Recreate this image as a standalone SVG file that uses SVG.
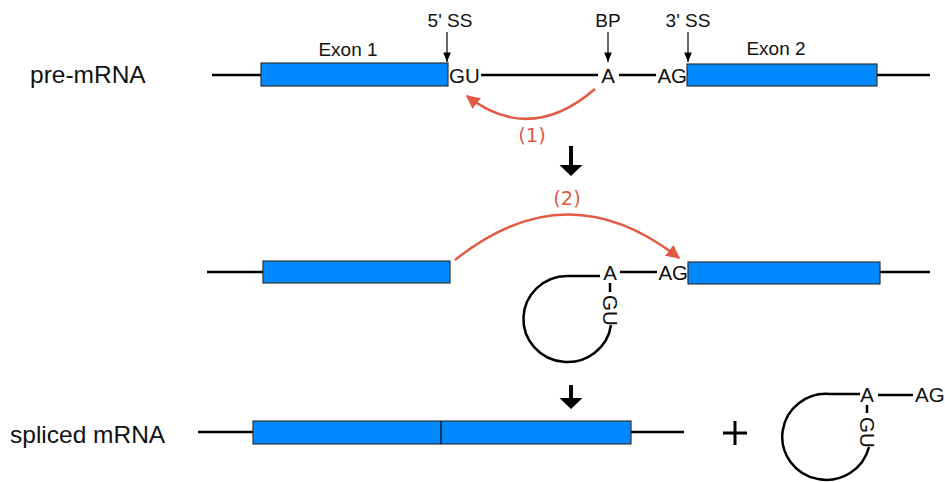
<svg xmlns="http://www.w3.org/2000/svg" width="945" height="482" viewBox="0 0 945 482">
<style>
.t{font-family:"Liberation Sans",Arial,sans-serif;fill:#111}
.lbl{font-size:24.5px}
.sm{font-size:19px}
.nt{font-size:20.5px}
.red{font-family:"DejaVu Sans",sans-serif;font-size:19.5px;fill:#e05a44}
.ln{stroke:#000;stroke-width:2.5;fill:none}
.ex{fill:#0088ff;stroke:#333;stroke-width:1.2}
.ra{stroke:#e05a44;stroke-width:2.5;fill:none;marker-end:url(#rh)}
.ta{stroke:#000;stroke-width:1.2;marker-end:url(#th)}
</style>
<defs>
<marker id="rh" viewBox="0 0 10 10" refX="9" refY="5" markerWidth="5.5" markerHeight="5.5" orient="auto" markerUnits="strokeWidth"><path d="M0 0L10 5L0 10z" fill="#e05a44"/></marker>
<marker id="th" viewBox="0 0 10 10" refX="10" refY="5" markerWidth="8" markerHeight="8" orient="auto" markerUnits="strokeWidth"><path d="M0 1L10 5L0 9z" fill="#000"/></marker>
</defs>
<rect width="945" height="482" fill="#fff"/>
<g id="labels">
<text class="t lbl" x="30" y="83">pre-mRNA</text>
<text class="t lbl" x="10" y="443">spliced mRNA</text>
</g>
<g id="premrna">
<line class="ln" x1="212" y1="75" x2="261" y2="75"/>
<rect class="ex" x="261" y="63" width="187" height="23"/>
<text class="t sm" x="348" y="56" text-anchor="middle">Exon 1</text>
<text class="t nt" x="449" y="83">GU</text>
<line class="ln" x1="481" y1="75" x2="598" y2="75"/>
<text class="t nt" x="608" y="83" text-anchor="middle">A</text>
<line class="ln" x1="619" y1="75" x2="656" y2="75"/>
<text class="t nt" x="687" y="83" text-anchor="end">AG</text>
<rect class="ex" x="687" y="64" width="190" height="22"/>
<text class="t sm" x="776" y="55" text-anchor="middle">Exon 2</text>
<line class="ln" x1="877" y1="75" x2="930" y2="75"/>
<text class="t sm" x="450" y="27" text-anchor="middle">5' SS</text>
<text class="t sm" x="608" y="27" text-anchor="middle">BP</text>
<text class="t sm" x="688" y="27" text-anchor="middle">3' SS</text>
</g>
<g id="intermediate">
<line class="ln" x1="207" y1="272" x2="263" y2="272"/>
<rect class="ex" x="263" y="261" width="187" height="22"/>
<text class="t nt" x="610" y="280" text-anchor="middle">A</text>
<line class="ln" x1="620" y1="272" x2="657" y2="272"/>
<text class="t nt" x="688" y="280" text-anchor="end">AG</text>
<rect class="ex" x="688" y="262" width="192" height="22"/>
<line class="ln" x1="880" y1="272" x2="930" y2="272"/>
<path class="ln" d="M600 276H567A44 43 0 1 0 611 325"/>
<line class="ln" x1="610" y1="283" x2="610" y2="292"/>
<text class="t nt" transform="translate(603 295) rotate(90)">GU</text>
</g>
<g id="spliced">
<line class="ln" x1="198" y1="432" x2="253" y2="432"/>
<rect class="ex" x="253" y="421" width="378" height="23"/>
<line stroke="#000" stroke-width="1.2" x1="441" y1="421" x2="441" y2="444"/>
<line class="ln" x1="631" y1="432" x2="684" y2="432"/>
</g>
<g id="plus">
<path d="M723 433H747M735 421V445" stroke="#000" stroke-width="3" fill="none"/>
</g>
<g id="lariat">
<text class="t nt" x="867" y="402" text-anchor="middle">A</text>
<line class="ln" x1="878" y1="395" x2="913" y2="395"/>
<text class="t nt" x="915" y="402">AG</text>
<path class="ln" d="M860 394H830A44 43 0 1 0 869 447"/>
<line class="ln" x1="867" y1="405" x2="867" y2="413"/>
<text class="t nt" transform="translate(860 417) rotate(90)">GU</text>
</g>
<g id="connectors">
<line class="ta" x1="447" y1="32" x2="447" y2="62"/>
<line class="ta" x1="608" y1="32" x2="608" y2="62"/>
<line class="ta" x1="688" y1="32" x2="688" y2="62"/>
<path class="ra" d="M595 89Q530 145 467 96"/>
<text class="red" x="532" y="142" text-anchor="middle">(1)</text>
<path class="ra" d="M455 260Q567 170 679 258"/>
<text class="red" x="567" y="205" text-anchor="middle">(2)</text>
<path d="M569 146h4v19h9.5l-11.5 11l-11.5-11h9.5z" fill="#000"/>
<path d="M569 385h4v13h9.5l-11.5 11l-11.5-11h9.5z" fill="#000"/>
</g>
</svg>
